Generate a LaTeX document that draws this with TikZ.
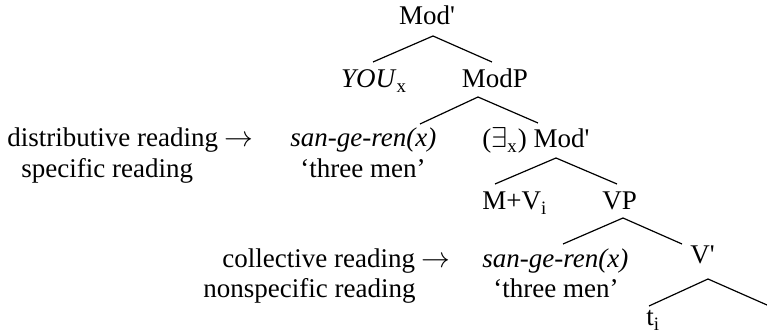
\documentclass[tikz,border=0pt]{standalone}
\usepackage{fontspec}
\setmainfont{Liberation Serif}
\usetikzlibrary{calc}

\begin{document}
\begin{tikzpicture}[x=0.5pt,y=-0.5pt,font=\fontsize{13.5}{16}\selectfont,
  every node/.style={inner sep=0pt},
  lbl/.style={anchor=base west},
  cat/.style={anchor=base},
  branch/.style={line width=0.6pt}]
\useasboundingbox (0,0) rectangle (767,335);

% categories of the tree
\node[cat] (modbar) at (427,25) {Mod\textquotesingle};
\node[cat] (you) at (374,88) {\textit{YOU}\textsubscript{x}};
\node[cat] (modp) at (495,88) {ModP};
\node[lbl] (sgr) at (290,147) {\textit{san-ge-ren(x)}};
\node[lbl] (three) at (300,178) {`three men'};
\node[lbl] (exmod) at (482,148) {($\exists$\textsubscript{x}) Mod\textquotesingle};
\node[lbl] (mv) at (482,210) {M+V\textsubscript{i}};
\node[lbl] (vp) at (602,210) {VP};
\node[lbl] (sgrb) at (482,268) {\textit{san-ge-ren(x)}};
\node[lbl] (threeb) at (493,298) {`three men'};
\node[lbl] (vbar) at (690,264) {V\textquotesingle};
\node[lbl] (ti) at (646,326) {t\textsubscript{i}};

% readings on the left
\node[lbl] (distr) at (7,147) {distributive reading $\rightarrow$};
\node[lbl] (spec) at (21,178) {specific reading};
\node[lbl] (coll) at (222,268) {collective reading $\rightarrow$};
\node[lbl] (nonspec) at (203,298) {nonspecific reading};

% branches
\coordinate (a1) at (433,36);
\coordinate (l1) at (373,62);
\coordinate (r1) at (492,62);
\coordinate (a2) at (478,97);
\coordinate (l2) at (420,124);
\coordinate (r2) at (538,123);
\coordinate (a3) at (556,158);
\coordinate (l3) at (495,184);
\coordinate (r3) at (617,184);
\coordinate (a4) at (623,218);
\coordinate (l4) at (563,244);
\coordinate (r4) at (682,244);
\coordinate (a5) at (708,279);
\coordinate (l5) at (649,306);
\coordinate (r5) at (767,305);
\draw[branch] (l1) -- (a1) -- (r1);
\draw[branch] (l2) -- (a2) -- (r2);
\draw[branch] (l3) -- (a3) -- (r3);
\draw[branch] (l4) -- (a4) -- (r4);
\draw[branch] (l5) -- (a5) -- (r5);

\end{tikzpicture}
\end{document}
